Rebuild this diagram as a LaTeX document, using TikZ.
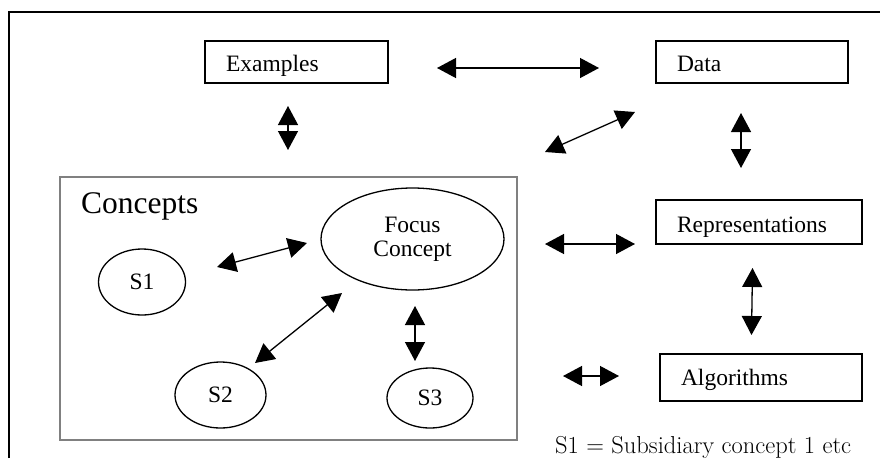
\documentclass[tikz,border=0pt]{standalone}
\usepackage{fontspec}
\newfontfamily\tnr{Liberation Serif}
\usetikzlibrary{arrows.meta,shapes.geometric}
\tikzset{
  boxsty/.style={draw, line width=1.3pt, rectangle, inner xsep=21pt, inner ysep=0pt,
    align=left, font=\tnr\fontsize{23.5}{28}\selectfont, text height=19pt, text depth=0pt},
  ellsty/.style={draw, line width=1.3pt, ellipse, inner sep=0pt,
    font=\tnr\fontsize{23.5}{24}\selectfont, align=center},
  dbl/.style={line width=1.3pt, {Triangle[length=19pt,width=20pt]}-{Triangle[length=19pt,width=20pt]}},
  framesty/.style={line width=2pt},
}
\begin{document}
\begin{tikzpicture}[x=1pt,y=-1pt]
\useasboundingbox (0,0) rectangle (880,458);
% outer frame (partly visible)
\draw[framesty] (9,458) -- (9,12) -- (880,12);
% boxes
\node[boxsty, minimum width=183pt, minimum height=42pt, text width=141pt] (examples) at (296.5,62) {Examples};
\node[boxsty, minimum width=192pt, minimum height=42pt, text width=150pt] (data) at (752,62) {Data};
\node[boxsty, minimum width=206pt, minimum height=44pt, text width=164pt, text height=20pt] (repr) at (759,222) {Representations};
\node[boxsty, minimum width=202pt, minimum height=47pt, text width=160pt, text height=15pt] (algo) at (761,377.5) {Algorithms};
% concepts frame
\node[draw=black!50, line width=2pt, rectangle, minimum width=457pt, minimum height=263pt, inner sep=0pt] (concepts) at (288.5,308.5) {};
\node[anchor=base west, inner sep=0pt, font=\tnr\fontsize{31.5}{36}\selectfont] (conlabel) at (81,213) {Concepts};
% ellipses
\node[ellsty, minimum width=183pt, minimum height=102pt] (focus) at (412.5,239) {Focus\\Concept};
\node[ellsty, minimum width=87pt, minimum height=66pt] (s1) at (142,282) {S1};
\node[ellsty, minimum width=91pt, minimum height=66pt] (s2) at (220.5,395) {S2};
\node[ellsty, minimum width=86pt, minimum height=60pt] (s3) at (430,398) {S3};
% note
\node[anchor=base west, inner sep=0pt, font=\fontsize{24.5}{29}\selectfont] (note) at (555,453) {S1 = Subsidiary concept 1 etc};
% arrow end points
\coordinate (exdaA) at (437,68);  \coordinate (exdaB) at (599,68);
\coordinate (excoA) at (288,106); \coordinate (excoB) at (288,150);
\coordinate (dacoA) at (545,152); \coordinate (dacoB) at (635,112);
\coordinate (dareA) at (741,113); \coordinate (dareB) at (741,168);
\coordinate (s1fA) at (217,267);  \coordinate (s1fB) at (307,243);
\coordinate (s2fA) at (255,363);  \coordinate (s2fB) at (342,293);
\coordinate (fs3A) at (415,306);  \coordinate (fs3B) at (415,361);
\coordinate (corA) at (545,244);  \coordinate (corB) at (635,244);
\coordinate (realA) at (752.5,268); \coordinate (realB) at (751.5,335);
\coordinate (alA) at (563,376);   \coordinate (alB) at (619,376);
% arrows
\draw[dbl] (exdaA) -- (exdaB);
\draw[dbl] (excoA) -- (excoB);
\draw[dbl] (dacoA) -- (dacoB);
\draw[dbl] (dareA) -- (dareB);
\draw[dbl] (s1fA) -- (s1fB);
\draw[dbl] (s2fA) -- (s2fB);
\draw[dbl] (fs3A) -- (fs3B);
\draw[dbl] (corA) -- (corB);
\draw[dbl] (realA) -- (realB);
\draw[dbl] (alA) -- (alB);
\end{tikzpicture}
\end{document}
